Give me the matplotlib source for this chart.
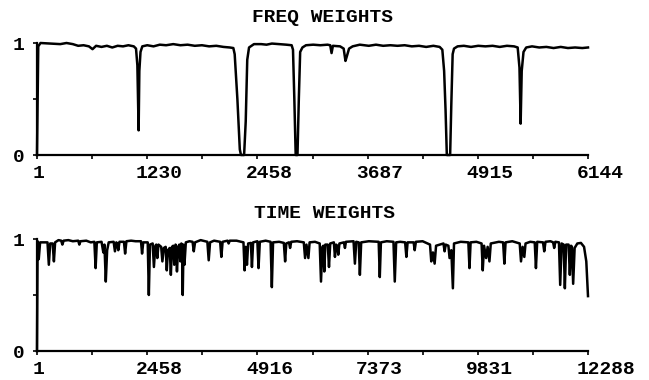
import matplotlib
matplotlib.use("Agg")
import matplotlib.pyplot as plt
import matplotlib.transforms as mtransforms

# frequency weights
freq_x = [
    1, 15, 40, 150, 260, 330, 400, 460, 520, 580, 620, 660, 720, 780, 840, 900, 960, 1020, 1080,
    1105, 1120, 1134, 1142, 1155, 1175,
    1230, 1300, 1370, 1440, 1520, 1600, 1680, 1760, 1840, 1920, 2000, 2080, 2150,
    2190, 2205, 2235, 2262, 2275, 2310, 2328, 2345, 2365, 2420,
    2500, 2560, 2620, 2700, 2780, 2840,
    2855, 2870, 2885, 2905, 2920, 2935, 2960, 3000,
    3080, 3160, 3240, 3270, 3285, 3300, 3380,
    3420, 3440, 3455, 3480, 3520,
    3600, 3700, 3780, 3860, 3940, 4020, 4100, 4180, 4260, 4340, 4420, 4490,
    4520, 4540, 4556, 4570, 4607, 4620, 4635, 4650, 4690,
    4760, 4840, 4920, 5000, 5080, 5160, 5240, 5320, 5360,
    5380, 5393, 5405, 5425, 5455,
    5520, 5600, 5680, 5760, 5840, 5920, 6000, 6080, 6144,
]
freq_y = [
    0.0, 0.97, 1.0, 0.995, 0.99, 1.0, 0.99, 0.975, 0.98, 0.97, 0.945, 0.975, 0.965, 0.975, 0.96, 0.975, 0.97, 0.98, 0.97,
    0.95, 0.8, 0.22, 0.75, 0.92, 0.97,
    0.98, 0.97, 0.985, 0.98, 0.99, 0.98, 0.985, 0.975, 0.98, 0.97, 0.975, 0.965, 0.96,
    0.955, 0.9, 0.5, 0.05, 0.0, 0.0, 0.3, 0.85, 0.96, 0.99,
    0.99, 0.985, 0.995, 0.99, 0.985, 0.98,
    0.94, 0.5, 0.0, 0.0, 0.5, 0.92, 0.96, 0.98,
    0.985, 0.98, 0.985, 0.98, 0.91, 0.975, 0.97,
    0.95, 0.84, 0.88, 0.95, 0.97,
    0.985, 0.975, 0.985, 0.975, 0.98, 0.975, 0.98, 0.97, 0.975, 0.965, 0.975, 0.965,
    0.94, 0.75, 0.4, 0.0, 0.0, 0.45, 0.9, 0.95, 0.97,
    0.975, 0.965, 0.975, 0.97, 0.975, 0.965, 0.975, 0.97, 0.96,
    0.78, 0.28, 0.75, 0.92, 0.96,
    0.97, 0.96, 0.965, 0.955, 0.965, 0.955, 0.96, 0.955, 0.96,
]

# time weights (one dip or cluster per row)
time_x = [
    1, 15, 40, 70,
    235, 265, 295,
    350, 378, 405,
    480, 540, 567, 595,
    700, 800, 920, 945, 970,
    1100, 1200, 1280, 1308, 1335,
    1440, 1480, 1505, 1535, 1565, 1600,
    1710, 1739, 1770, 1790, 1814, 1840,
    1940, 1966, 1995,
    2100, 2200, 2320, 2344, 2370,
    2470, 2495, 2520,
    2580, 2608, 2640,
    2660, 2684, 2710,
    2770, 2797, 2830,
    2870, 2895, 2920,
    2960, 2986, 3010,
    3040, 3062, 3090,
    3100, 3122, 3150,
    3175, 3198, 3220,
    3235, 3251, 3268, 3289, 3320,
    3400, 3470, 3497, 3525,
    3650, 3800, 3830, 3860,
    3950, 4085, 4112, 4140,
    4250, 4274, 4300,
    4450, 4605, 4630, 4655, 4683, 4710,
    4770, 4794, 4820,
    4915, 4941, 4970,
    5100, 5210, 5238, 5265,
    5400, 5505, 5534, 5560,
    5620, 5645, 5670,
    5800, 5950, 5979, 6010, 6053, 6080,
    6200, 6305, 6334, 6365,
    6385, 6408, 6430,
    6485, 6512, 6540,
    6620, 6645, 6670, 6695, 6719, 6745,
    6845, 6868, 6890,
    7060, 7090, 7120,
    7175, 7201, 7230,
    7400, 7620, 7645, 7670,
    7800, 7950, 7979, 8010,
    8100, 8210, 8238, 8265,
    8400, 8423, 8450,
    8600, 8765, 8793, 8830, 8868, 8900,
    9065, 9090, 9115,
    9175, 9201, 9240, 9275, 9300,
    9450, 9620, 9645, 9670,
    9800, 9915, 9941, 9970, 10016, 10050, 10090, 10120,
    10300, 10395, 10423, 10450,
    10600, 10765, 10794, 10830, 10868, 10895,
    11000, 11100, 11127, 11155,
    11285, 11312, 11340,
    11450, 11510, 11534, 11560,
    11640, 11668, 11700, 11745, 11772, 11800,
    11855, 11883, 11910, 11930, 11957, 11990,
    12050, 12130, 12200, 12250, 12288,
]
time_y = [
    0.0, 0.98, 0.82, 0.97,
    0.97, 0.77, 0.96,
    0.96, 0.80, 0.97,
    0.99, 0.985, 0.95, 0.985,
    0.99, 0.98, 0.985, 0.95, 0.98,
    0.985, 0.97, 0.975, 0.74, 0.97,
    0.975, 0.88, 0.95, 0.62, 0.9, 0.97,
    0.975, 0.89, 0.97, 0.96, 0.90, 0.975,
    0.975, 0.87, 0.98,
    0.985, 0.98, 0.98, 0.87, 0.97,
    0.97, 0.50, 0.95,
    0.96, 0.75, 0.94,
    0.95, 0.83, 0.95,
    0.93, 0.80, 0.92,
    0.93, 0.72, 0.9,
    0.92, 0.68, 0.93,
    0.94, 0.77, 0.95,
    0.94, 0.71, 0.93,
    0.95, 0.80, 0.96,
    0.95, 0.50, 0.95, 0.77, 0.97,
    0.98, 0.975, 0.89, 0.97,
    0.99, 0.975, 0.81, 0.97,
    0.985, 0.975, 0.84, 0.975,
    0.985, 0.96, 0.985,
    0.985, 0.97, 0.72, 0.93, 0.77, 0.96,
    0.965, 0.75, 0.97,
    0.98, 0.74, 0.975,
    0.985, 0.975, 0.57, 0.97,
    0.975, 0.965, 0.80, 0.96,
    0.97, 0.92, 0.975,
    0.98, 0.97, 0.83, 0.95, 0.83, 0.97,
    0.975, 0.96, 0.62, 0.93,
    0.94, 0.71, 0.95,
    0.95, 0.75, 0.96,
    0.97, 0.84, 0.95, 0.94, 0.86, 0.96,
    0.97, 0.92, 0.975,
    0.98, 0.78, 0.975,
    0.97, 0.68, 0.97,
    0.98, 0.975, 0.66, 0.97,
    0.98, 0.975, 0.62, 0.97,
    0.975, 0.97, 0.84, 0.97,
    0.97, 0.90, 0.975,
    0.98, 0.95, 0.80, 0.88, 0.78, 0.94,
    0.96, 0.89, 0.95,
    0.94, 0.83, 0.9, 0.56, 0.96,
    0.975, 0.97, 0.74, 0.97,
    0.975, 0.96, 0.72, 0.94, 0.83, 0.93, 0.80, 0.96,
    0.975, 0.97, 0.78, 0.97,
    0.98, 0.96, 0.80, 0.93, 0.84, 0.96,
    0.975, 0.97, 0.74, 0.975,
    0.97, 0.89, 0.975,
    0.98, 0.97, 0.92, 0.975,
    0.97, 0.59, 0.96, 0.95, 0.56, 0.95,
    0.95, 0.68, 0.94, 0.93, 0.60, 0.92,
    0.96, 0.965, 0.93, 0.8, 0.49,
]

freq_ticks = [1, 1230, 2458, 3687, 4915, 6144]
time_ticks = [1, 2458, 4916, 7373, 9831, 12288]

FONT = "Liberation Mono"
FS = 14
W, H = 649, 380


def style_axis(ax, ticks, xmax):
    ax.set_xlim(1, xmax)
    ax.set_ylim(0, 1)
    for s in ("top", "right"):
        ax.spines[s].set_visible(False)
    for s in ("left", "bottom"):
        ax.spines[s].set_linewidth(1.6)
    minor = [(a + b) / 2 for a, b in zip(ticks[:-1], ticks[1:])]
    ax.set_xticks(ticks)
    ax.set_xticks(minor, minor=True)
    ax.set_xticklabels([str(t) for t in ticks])
    ax.set_yticks([0, 0.5, 1])
    ax.set_yticklabels(["0", "", "1"])
    ax.tick_params(which="both", direction="out", length=3, width=1.2, color="black")
    ax.tick_params(axis="x", pad=4)
    ax.tick_params(axis="y", pad=6)
    for lab in ax.get_xticklabels() + ax.get_yticklabels():
        lab.set_fontfamily(FONT)
        lab.set_fontweight("bold")
        lab.set_fontsize(FS)
    # labels in the scan sit a little right of their ticks
    shift = {1: 2, 4: 12, 5: 18}
    for lab in ax.get_xticklabels():
        dx = shift.get(len(lab.get_text()), 10)
        lab.set_transform(lab.get_transform() + mtransforms.ScaledTranslation(dx / 100, 0, ax.figure.dpi_scale_trans))


fig = plt.figure(figsize=(W / 100, H / 100), dpi=100)
fig.patch.set_facecolor("white")

ax1 = fig.add_axes([37 / W, 1 - 155 / H, (588 - 37) / W, 112 / H])
ax1.plot(freq_x, freq_y, color="black", lw=1.8, clip_on=False)
style_axis(ax1, freq_ticks, 6144)

ax2 = fig.add_axes([37 / W, 1 - 351 / H, (588 - 37) / W, 112 / H])
ax2.plot(time_x, time_y, color="black", lw=1.8, clip_on=False)
style_axis(ax2, time_ticks, 12288)

fig.text(323 / W, 1 - 17 / H, "FREQ WEIGHTS", ha="center", va="center",
         fontfamily=FONT, fontweight="bold", fontsize=FS)
fig.text(324 / W, 1 - 213 / H, "TIME WEIGHTS", ha="center", va="center",
         fontfamily=FONT, fontweight="bold", fontsize=FS)

fig.savefig("out.png", dpi=100)
